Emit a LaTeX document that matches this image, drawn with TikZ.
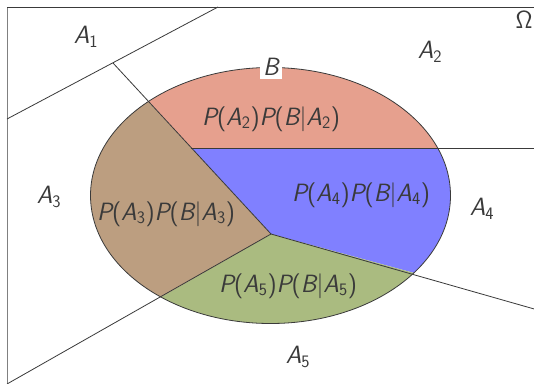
\documentclass[tikz,border=0pt]{standalone}
\definecolor{regA}{HTML}{E6A08E}
\definecolor{regB}{HTML}{8080FF}
\definecolor{regC}{HTML}{BC9E80}
\definecolor{regD}{HTML}{AABB80}
\definecolor{ink}{HTML}{3A3A3A}
\newcommand{\sv}[1]{{\slshape #1}}
\newcommand{\Ai}[1]{\sv{A}\textsubscript{\upshape #1}}
\newcommand{\prodlabel}[1]{\sv{P}(\Ai{#1})\sv{P}(\sv{B}|\Ai{#1})}
\tikzset{
  lbl/.style={text=ink, font=\sffamily\fontsize{25}{30}\selectfont, inner sep=0pt},
  sep/.style={draw=ink, line width=0.8pt},
}
\begin{document}
\begin{tikzpicture}[x=1pt,y=-1pt]
\clip (0,0) rectangle (534,383);
\fill[white] (0,0) rectangle (534,383);
% ellipse points
\coordinate (O) at (270.5,195.5);
\coordinate (C) at (271,234);
\coordinate (P1) at (148.3,101.6);
\coordinate (P2) at (437.6,148);
\coordinate (P3) at (413.9,272.9);
\coordinate (P4) at (160.9,297.0);
\coordinate (Q) at (191.3,148);
\coordinate (E1) at (113,63);
\coordinate (E2) at (536,148);
\coordinate (E3) at (536,309.5);
\coordinate (E4) at (7,384);
\coordinate (L1a) at (7,119);
\coordinate (L1b) at (218,7);
% regions
\fill[regA] (P1) arc[start angle=132.8, end angle=21.78, x radius=180pt, y radius=128pt] -- (Q) -- cycle;
\fill[regB] (P2) arc[start angle=21.78, end angle=-37.2, x radius=180pt, y radius=128pt] -- (C) -- (Q) -- cycle;
\fill[regD] (P3) arc[start angle=-37.2, end angle=-127.5, x radius=180pt, y radius=128pt] -- (C) -- cycle;
\fill[regC] (P4) arc[start angle=232.5, end angle=132.8, x radius=180pt, y radius=128pt] -- (C) -- cycle;
% frame
\draw[draw=gray, line width=1pt] (7,385) -- (7,7);
\draw[sep] (7,7) -- (536,7);
% separators
\draw[sep] (L1a) -- (L1b);
\draw[sep] (E1) -- (C);
\draw[sep] (Q) -- (E2);
\draw[sep] (C) -- (E3);
\draw[sep] (C) -- (E4);
\draw[sep] (O) ellipse[x radius=180pt, y radius=128pt];
% labels
\node[lbl] (a1) at (86,37) {\Ai{1}};
\node[lbl] (a2) at (430,52) {\Ai{2}};
\node[lbl] (a3) at (49,197) {\Ai{3}};
\node[lbl] (a4) at (482,209) {\Ai{4}};
\node[lbl] (a5) at (298,357) {\Ai{5}};
\node[lbl] (om) at (524,20) {$\mathsf{\Omega}$};
\node[lbl, fill=white, inner sep=3pt] (b) at (271,67) {\sv{B}};
\node[lbl] (p2) at (271,119) {\prodlabel{2}};
\node[lbl] (p4) at (361,195) {\prodlabel{4}};
\node[lbl] (p3) at (166,214) {\prodlabel{3}};
\node[lbl] (p5) at (288,286) {\prodlabel{5}};
\end{tikzpicture}
\end{document}
